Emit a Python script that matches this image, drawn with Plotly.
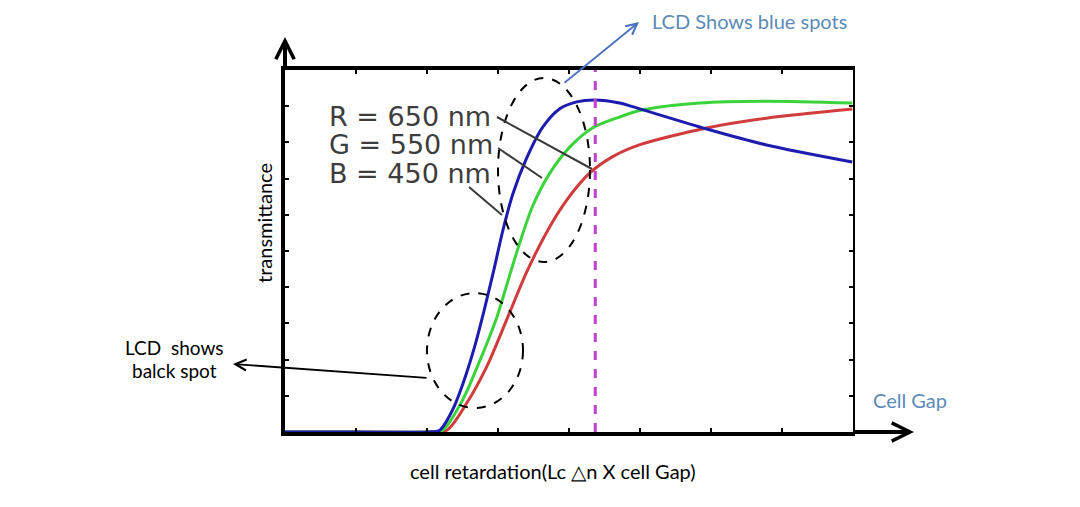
import plotly.graph_objects as go

# ---------------- data (x: 0..8 retardation units, y: 0..10 transmittance units)
blue_x = [0, 1, 2, 2.18, 2.36, 2.50, 2.67, 2.81, 2.95, 3.07, 3.21, 3.40, 3.63, 3.87, 4.11, 4.36, 4.71, 5.04, 5.94, 6.78, 7.99]
blue_y = [0, 0, 0, 0.05, 0.61, 1.30, 2.35, 3.40, 4.55, 5.58, 6.58, 7.55, 8.42, 8.93, 9.12, 9.17, 9.09, 8.90, 8.37, 7.93, 7.46]

green_x = [0, 1, 2, 2.22, 2.50, 2.74, 2.98, 3.16, 3.31, 3.49, 3.73, 4.01, 4.33, 4.71, 5.04, 5.84, 6.78, 7.99]
green_y = [0, 0, 0, 0.05, 0.88, 1.95, 3.15, 4.30, 5.25, 6.25, 7.15, 7.87, 8.40, 8.70, 8.90, 9.09, 9.14, 9.09]

red_x = [0, 1, 2, 2.28, 2.56, 2.84, 3.12, 3.40, 3.68, 3.97, 4.29, 4.61, 4.99, 5.94, 6.78, 7.99]
red_y = [0, 0, 0, 0.05, 0.80, 1.80, 3.09, 4.40, 5.50, 6.41, 7.15, 7.60, 7.93, 8.40, 8.67, 8.92]

marker_x = 4.37
series_labels = ["R = 650 nm", "G = 550 nm", "B = 450 nm"]

# ---------------- geometry helpers (pixel -> paper fraction)
L, R, T, B = 285, 853, 70, 432
W, H = 1080, 507


def px(x):
    return (x - L) / (R - L)


def py(y):
    return (B - y) / (B - T)


fig = go.Figure()
fig.add_trace(go.Scatter(x=red_x, y=red_y, mode="lines", line=dict(color="#d13b3b", width=3, shape="spline", smoothing=0.8), showlegend=False))
fig.add_trace(go.Scatter(x=green_x, y=green_y, mode="lines", line=dict(color="#3ad33a", width=3, shape="spline", smoothing=0.8), showlegend=False))
fig.add_trace(go.Scatter(x=blue_x, y=blue_y, mode="lines", line=dict(color="#1c1cae", width=3, shape="spline", smoothing=0.8), showlegend=False))
# dummy trace to show right-side axis
fig.add_trace(go.Scatter(x=[0], y=[0], yaxis="y2", mode="markers", marker=dict(opacity=0), showlegend=False, hoverinfo="skip"))

fig.add_shape(type="line", x0=marker_x, x1=marker_x, y0=0, y1=10, xref="x", yref="y",
              line=dict(color="#c040d0", width=3, dash="dash"))

# dashed ellipses
fig.add_shape(type="circle", xref="paper", yref="paper", x0=px(498), x1=px(590), y0=py(262), y1=py(78),
              line=dict(color="black", width=2, dash="dash"))
fig.add_shape(type="circle", xref="paper", yref="paper", x0=px(427), x1=px(523), y0=py(408), y1=py(293),
              line=dict(color="black", width=2, dash="dash"))

# leader lines
for (x0, y0, x1, y1) in [(497, 117, 592, 169), (498, 148, 542, 178), (469, 187, 502, 215)]:
    fig.add_shape(type="line", xref="paper", yref="paper", x0=px(x0), y0=py(y0), x1=px(x1), y1=py(y1),
                  line=dict(color="#3a3a3a", width=2))

ann = []
# axis arrows
ann.append(dict(x=px(285), y=py(37), xref="paper", yref="paper", ax=0, ay=34, text="", showarrow=True,
                arrowhead=5, arrowwidth=4, arrowsize=0.9, arrowcolor="black"))
ann.append(dict(x=px(914), y=py(432), xref="paper", yref="paper", ax=-62, ay=0, text="", showarrow=True,
                arrowhead=5, arrowwidth=4, arrowsize=0.9, arrowcolor="black"))
# blue spots arrow
ann.append(dict(x=px(639), y=py(22), xref="paper", yref="paper", ax=-76, ay=62, text="", showarrow=True,
                arrowhead=5, arrowwidth=1.8, arrowsize=1.2, arrowcolor="#4a72c0"))
# black spot arrow
ann.append(dict(x=px(233), y=py(364), xref="paper", yref="paper", ax=195, ay=14, text="", showarrow=True,
                arrowhead=5, arrowwidth=1.8, arrowsize=1.2, arrowcolor="black"))

font_main = "Lato"
ann.append(dict(x=px(650), y=py(21), xref="paper", yref="paper", text="LCD Shows blue spots", showarrow=False,
                xanchor="left", yanchor="middle", font=dict(family=font_main, size=20, color="#5b8ab8")))
ann.append(dict(x=px(871), y=py(400), xref="paper", yref="paper", text="Cell Gap", showarrow=False,
                xanchor="left", yanchor="middle", font=dict(family=font_main, size=20, color="#5b8ab8")))
ann.append(dict(x=px(174), y=py(347), xref="paper", yref="paper", text="LCD\u00a0 shows", showarrow=False,
                xanchor="center", yanchor="middle", font=dict(family=font_main, size=19, color="black")))
ann.append(dict(x=px(174), y=py(370), xref="paper", yref="paper", text="balck spot", showarrow=False,
                xanchor="center", yanchor="middle", font=dict(family=font_main, size=19, color="black")))
ann.append(dict(x=px(553), y=py(471), xref="paper", yref="paper", text="cell retardation(Lc \u25b3n X cell Gap)", showarrow=False,
                xanchor="center", yanchor="middle", font=dict(family=font_main, size=20, color="black")))
ann.append(dict(x=px(264), y=py(223), xref="paper", yref="paper", text="transmittance", showarrow=False, textangle=-90,
                xanchor="center", yanchor="middle", font=dict(family=font_main, size=20, color="black")))
for i, lab in enumerate(series_labels):
    ann.append(dict(x=px(327), y=py(116 + 28.5 * i), xref="paper", yref="paper", text=lab, showarrow=False,
                    xanchor="left", yanchor="middle", font=dict(family="DejaVu Sans", size=27, color="#3d3d3d")))

fig.update_layout(
    width=W, height=H,
    margin=dict(l=L, r=W - R, t=T, b=H - B),
    paper_bgcolor="white", plot_bgcolor="white",
    showlegend=False,
    annotations=ann,
    xaxis=dict(range=[0, 8], dtick=1, tick0=0, showgrid=False, zeroline=False, showticklabels=False,
               showline=True, linewidth=4, linecolor="black", mirror="ticks",
               ticks="inside", ticklen=4, tickwidth=2, tickcolor="black"),
    yaxis=dict(range=[0, 10], dtick=1, tick0=0, showgrid=False, zeroline=False, showticklabels=False,
               showline=True, linewidth=4, linecolor="black",
               ticks="inside", ticklen=4, tickwidth=2, tickcolor="black"),
    yaxis2=dict(range=[0, 10], dtick=1, tick0=0, overlaying="y", side="right", showgrid=False, zeroline=False,
                showticklabels=False, showline=True, linewidth=2, linecolor="black",
                ticks="inside", ticklen=4, tickwidth=2, tickcolor="black"),
)

fig.write_html("out.html")
